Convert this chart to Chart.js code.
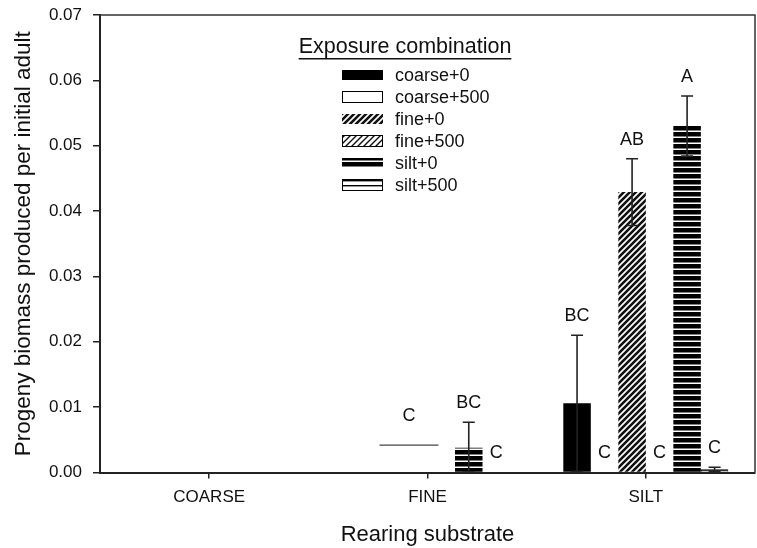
<!DOCTYPE html>
<html>
<head>
<meta charset="utf-8">
<script src="https://cdn.jsdelivr.net/npm/chart.js@4.4.0/dist/chart.umd.min.js"></script>
<style>
  html, body { margin: 0; padding: 0; background: #fff; }
</style>
</head>
<body>
<canvas id="chart" width="757" height="548"></canvas>
<script>
// Rearing substrate categories
const categories = ['COARSE', 'FINE', 'SILT'];
const yTicks = [0, 0.01, 0.02, 0.03, 0.04, 0.05, 0.06, 0.07];

// Mean progeny biomass per exposure combination
const coarse0 = [0, 0, 0.0106];
const coarse500 = [0, 0, 0];
const fine0 = [0, 0, 0.0429];
const fine500 = [0, 0, 0];
const silt0 = [0, 0.0038, 0.0530];
const silt500 = [0, 0, 0.0005];

// Standard errors
const coarse0Err = [0, 0, 0.0104];
const coarse500Err = [0, 0, 0];
const fine0Err = [0, 0, 0.0051];
const fine500Err = [0, 0, 0];
const silt0Err = [0, 0.0039, 0.0046];
const silt500Err = [0, 0, 0.0003];

// Significance letters
const coarse0Letters = ['', '', 'BC'];
const coarse500Letters = ['', '', 'C'];
const fine0Letters = ['', '', 'AB'];
const fine500Letters = ['', '', 'C'];
const silt0Letters = ['', 'BC', 'A'];
const silt500Letters = ['', 'C', 'C'];

// stray horizontal mark in the FINE group
const fineMarkValue = 0.0042;
const fineMarkLetter = 'C';

const FONT = "'Liberation Sans', Arial, Helvetica, sans-serif";

// Helper to build fill patterns like the SigmaPlot ones
function makePattern(kind) {
  const c = document.createElement('canvas');
  const ctx = c.getContext('2d');
  if (kind === 'hatch' || kind === 'hatchLight') {
    const s = 6;
    c.width = s; c.height = s;
    ctx.fillStyle = '#fff';
    ctx.fillRect(0, 0, s, s);
    ctx.strokeStyle = '#111';
    ctx.lineWidth = kind === 'hatch' ? 2.6 : 1.4;
    ctx.beginPath();
    ctx.moveTo(-1, 1); ctx.lineTo(1, -1);
    ctx.moveTo(0, s); ctx.lineTo(s, 0);
    ctx.moveTo(s - 1, s + 1); ctx.lineTo(s + 1, s - 1);
    ctx.stroke();
  } else if (kind === 'stripes') {
    c.width = 4; c.height = 6;
    ctx.fillStyle = '#fff';
    ctx.fillRect(0, 0, 4, 6);
    ctx.fillStyle = '#000';
    ctx.fillRect(0, 0, 4, 4.5);
  } else if (kind === 'stripesLight') {
    c.width = 4; c.height = 5;
    ctx.fillStyle = '#fff';
    ctx.fillRect(0, 0, 4, 5);
    ctx.fillStyle = '#000';
    ctx.fillRect(0, 0, 4, 1.4);
  }
  return ctx.createPattern(c, 'repeat');
}

const series = [
  { label: 'coarse+0', data: coarse0, err: coarse0Err, letters: coarse0Letters, fill: '#000', border: 0 },
  { label: 'coarse+500', data: coarse500, err: coarse500Err, letters: coarse500Letters, fill: '#fff', border: 1 },
  { label: 'fine+0', data: fine0, err: fine0Err, letters: fine0Letters, fill: makePattern('hatch'), border: 0 },
  { label: 'fine+500', data: fine500, err: fine500Err, letters: fine500Letters, fill: makePattern('hatchLight'), border: 1 },
  { label: 'silt+0', data: silt0, err: silt0Err, letters: silt0Letters, fill: makePattern('stripes'), border: 0 },
  { label: 'silt+500', data: silt500, err: silt500Err, letters: silt500Letters, fill: makePattern('stripesLight'), border: 1 }
];

// Error bars, letters, frame and the fine mark
const annotations = {
  id: 'annotations',
  afterDatasetsDraw(chart) {
    const ctx = chart.ctx;
    const y = chart.scales.y;
    const x = chart.scales.x;
    const area = chart.chartArea;
    ctx.save();

    series.forEach((s, di) => {
      const meta = chart.getDatasetMeta(di);
      meta.data.forEach((bar, i) => {
        const v = s.data[i];
        const e = s.err[i];
        let topVal = v;
        if (e) {
          const top = y.getPixelForValue(v + e);
          const bot = y.getPixelForValue(Math.max(v - e, 0.00005));
          ctx.strokeStyle = '#222';
          ctx.lineWidth = 1.6;
          ctx.beginPath();
          ctx.moveTo(bar.x, top); ctx.lineTo(bar.x, bot);
          ctx.moveTo(bar.x - 6, top); ctx.lineTo(bar.x + 6, top);
          ctx.moveTo(bar.x - 6, bot); ctx.lineTo(bar.x + 6, bot);
          ctx.stroke();
          topVal = v + e;
        }
        if (s.letters[i]) {
          ctx.fillStyle = '#111';
          ctx.font = '18px ' + FONT;
          ctx.textAlign = 'center';
          ctx.textBaseline = 'middle';
          ctx.fillText(s.letters[i], bar.x, y.getPixelForValue(topVal) - 19);
        }
      });
    });

    // stray horizontal mark in FINE
    const cx = x.getPixelForValue(1);
    const cw = area.width / categories.length;
    const my = y.getPixelForValue(fineMarkValue);
    ctx.strokeStyle = '#444';
    ctx.lineWidth = 1.2;
    ctx.beginPath();
    ctx.moveTo(cx - 0.22 * cw, my);
    ctx.lineTo(cx + 0.05 * cw, my);
    ctx.stroke();
    ctx.fillStyle = '#111';
    ctx.font = '18px ' + FONT;
    ctx.textAlign = 'center';
    ctx.textBaseline = 'middle';
    ctx.fillText(fineMarkLetter, cx - 0.085 * cw, my - 29);

    // top and right frame
    ctx.strokeStyle = '#333';
    ctx.lineWidth = 1.5;
    ctx.beginPath();
    ctx.moveTo(area.left, area.top);
    ctx.lineTo(area.right, area.top);
    ctx.lineTo(area.right, area.bottom);
    ctx.stroke();

    // legend
    ctx.fillStyle = '#111';
    ctx.font = '21.5px ' + FONT;
    ctx.textAlign = 'center';
    ctx.textBaseline = 'middle';
    ctx.fillText('Exposure combination', 405, 47);
    const tw = ctx.measureText('Exposure combination').width;
    ctx.fillRect(405 - tw / 2, 58, tw, 1.5);

    ctx.font = '18px ' + FONT;
    ctx.textAlign = 'left';
    series.forEach((s, i) => {
      const ry = 75 + i * 22;
      ctx.fillStyle = s.fill;
      ctx.fillRect(342, ry - 5, 41, 10);
      if (s.border) {
        ctx.strokeStyle = '#000';
        ctx.lineWidth = 1;
        ctx.strokeRect(342.5, ry - 5.5, 40, 11);
      }
      ctx.fillStyle = '#111';
      ctx.fillText(s.label, 395, ry + 1);
    });

    ctx.restore();
  }
};

new Chart(document.getElementById('chart'), {
  type: 'bar',
  data: {
    labels: categories,
    datasets: series.map(s => ({
      label: s.label,
      data: s.data,
      backgroundColor: s.fill,
      borderColor: '#000',
      borderWidth: s.border,
      categoryPercentage: 0.756,
      barPercentage: 1
    }))
  },
  options: {
    responsive: false,
    animation: false,
    devicePixelRatio: 1,
    layout: { padding: { top: 15, right: 2, left: 0, bottom: 0 } },
    plugins: {
      legend: { display: false },
      tooltip: { enabled: false }
    },
    scales: {
      x: {
        afterFit: s => { s.height = 75.5; s.paddingLeft = 0; s.paddingRight = 0; },
        grid: { offset: false, drawOnChartArea: false, tickLength: 6, color: '#222', lineWidth: 1.5 },
        border: { color: '#222', width: 2 },
        ticks: { color: '#111', font: { family: FONT, size: 17 }, padding: 9 },
        title: { display: true, text: 'Rearing substrate', color: '#111', font: { family: FONT, size: 22 }, padding: { top: 0, bottom: 0 } }
      },
      y: {
        min: 0,
        max: 0.07,
        afterFit: s => { s.width = 100; s.paddingTop = 0; s.paddingBottom = 0; },
        afterBuildTicks: s => { s.ticks = yTicks.map(v => ({ value: v })); },
        grid: { drawOnChartArea: false, tickLength: 7, color: '#222', lineWidth: 1.5 },
        border: { color: '#222', width: 2 },
        ticks: { color: '#111', font: { family: FONT, size: 17 }, padding: 11, callback: v => v.toFixed(2) },
        title: { display: true, text: 'Progeny biomass produced per initial adult', color: '#111', font: { family: FONT, size: 22.5 }, padding: { top: 10, bottom: 0 } }
      }
    }
  },
  plugins: [annotations]
});
</script>
</body>
</html>
